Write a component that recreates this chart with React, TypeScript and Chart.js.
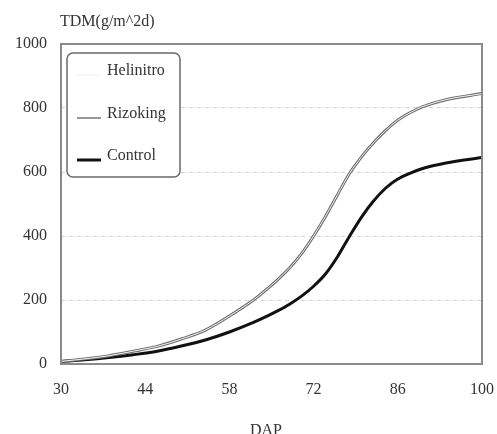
import React, { useEffect, useRef } from "react";
import { Chart, registerables } from "chart.js";

Chart.register(...registerables);

// Days after planting (DAP) at which total dry matter was sampled
const days = [30, 34, 38, 42, 46, 50, 54, 58, 62, 64, 66, 68, 70, 72, 74, 76, 78, 80, 82, 84, 86, 88, 90, 94, 100];

// Total dry matter, g/m^2
const helinitro = [8, 16, 26, 40, 55, 78, 106, 150, 200, 230, 263, 300, 345, 400, 462, 530, 596, 648, 692, 730, 762, 785, 803, 826, 845];
const rizoking = [8, 16, 26, 40, 55, 78, 106, 150, 200, 230, 263, 300, 345, 400, 462, 530, 596, 648, 692, 730, 762, 785, 803, 826, 845];
const control = [8, 13, 20, 29, 40, 56, 75, 100, 130, 147, 166, 187, 212, 243, 282, 336, 400, 460, 510, 550, 578, 596, 610, 628, 645];

const xTicks = [30, 44, 58, 72, 86, 100];
const yTicks = [0, 200, 400, 600, 800, 1000];

const FONT = "'Liberation Serif', 'DejaVu Serif', serif";

const pts = (vals: number[]) => days.map((d, i) => ({ x: d, y: vals[i] }));

// Frame, title, axis caption and the boxed legend inside the plot
const decorations = {
  id: "decorations",
  afterDraw(chart: any) {
    const { ctx, chartArea } = chart;
    const { left, right, top, bottom } = chartArea;
    ctx.save();
    ctx.strokeStyle = "#8a8a8a";
    ctx.lineWidth = 2;
    ctx.strokeRect(left, top, right - left, bottom - top);

    ctx.fillStyle = "#333";
    ctx.font = `16px ${FONT}`;
    ctx.textAlign = "left";
    ctx.textBaseline = "alphabetic";
    ctx.fillText("TDM(g/m^2d)", left - 1, 26);
    ctx.textAlign = "center";
    ctx.fillText("DAP", 266, 435);

    // legend box
    const bx = 67, by = 53, bw = 113, bh = 124, r = 6;
    ctx.beginPath();
    ctx.moveTo(bx + r, by);
    ctx.arcTo(bx + bw, by, bx + bw, by + bh, r);
    ctx.arcTo(bx + bw, by + bh, bx, by + bh, r);
    ctx.arcTo(bx, by + bh, bx, by, r);
    ctx.arcTo(bx, by, bx + bw, by, r);
    ctx.closePath();
    ctx.fillStyle = "#fff";
    ctx.fill();
    ctx.strokeStyle = "#6a6a6a";
    ctx.lineWidth = 1.5;
    ctx.stroke();

    const rows = [71, 114, 156];
    ctx.font = `16px ${FONT}`;
    ctx.textAlign = "left";
    ctx.textBaseline = "middle";
    chart.data.datasets.forEach((ds: any, i: number) => {
      const y = rows[i];
      ctx.strokeStyle = ds.legendColor;
      ctx.lineWidth = ds.legendWidth;
      ctx.beginPath();
      ctx.moveTo(77, y + 4);
      ctx.lineTo(101, y + 4);
      ctx.stroke();
      ctx.fillStyle = "#333";
      ctx.fillText(ds.label, 107, y);
    });
    ctx.restore();
  },
};

export default function App() {
  const ref = useRef<HTMLCanvasElement>(null);

  useEffect(() => {
    if (!ref.current) return;
    const chart = new Chart(ref.current, {
      type: "line",
      data: {
        datasets: [
          {
            label: "Helinitro",
            data: pts(helinitro),
            borderColor: "#f4f4f4",
            borderWidth: 1,
            legendColor: "#f0f0f0",
            legendWidth: 1,
            order: 0,
          } as any,
          {
            label: "Rizoking",
            data: pts(rizoking),
            borderColor: "#6e6e6e",
            borderWidth: 3,
            legendColor: "#777",
            legendWidth: 1.5,
            order: 1,
          } as any,
          {
            label: "Control",
            data: pts(control),
            borderColor: "#111",
            borderWidth: 3,
            legendColor: "#111",
            legendWidth: 3,
            order: 2,
          } as any,
        ],
      },
      options: {
        responsive: false,
        animation: false,
        layout: { padding: { top: 44, right: 15, left: 0, bottom: 0 } },
        elements: {
          point: { radius: 0 },
          line: { cubicInterpolationMode: "monotone", fill: false },
        },
        plugins: { legend: { display: false }, tooltip: { enabled: false } },
        scales: {
          x: {
            type: "linear",
            min: 30,
            max: 100,
            afterBuildTicks: (s: any) => {
              s.ticks = xTicks.map((v) => ({ value: v }));
            },
            afterFit: (s: any) => {
              s.height = 70;
              s.paddingLeft = 0;
              s.paddingRight = 0;
            },
            grid: { display: false, drawTicks: false },
            border: { display: false },
            ticks: {
              color: "#333",
              font: { family: FONT, size: 16 },
              padding: 16,
              maxRotation: 0,
              callback: (v: any) => String(v),
            },
          },
          y: {
            min: 0,
            max: 1000,
            afterBuildTicks: (s: any) => {
              s.ticks = yTicks.map((v) => ({ value: v }));
            },
            afterFit: (s: any) => {
              s.width = 61;
              s.paddingTop = 0;
              s.paddingBottom = 0;
            },
            grid: { color: "#d4d4d4", lineWidth: 1, drawTicks: false },
            border: { display: false, dash: [4, 4] },
            ticks: {
              color: "#333",
              font: { family: FONT, size: 16 },
              padding: 14,
              callback: (v: any) => String(v),
            },
          },
        },
      },
      plugins: [decorations],
    });
    return () => chart.destroy();
  }, []);

  return (
    <div style={{ position: "fixed", left: 0, top: 0, width: 497, height: 434, background: "#fff" }}>
      <canvas ref={ref} width={497} height={434} />
    </div>
  );
}
